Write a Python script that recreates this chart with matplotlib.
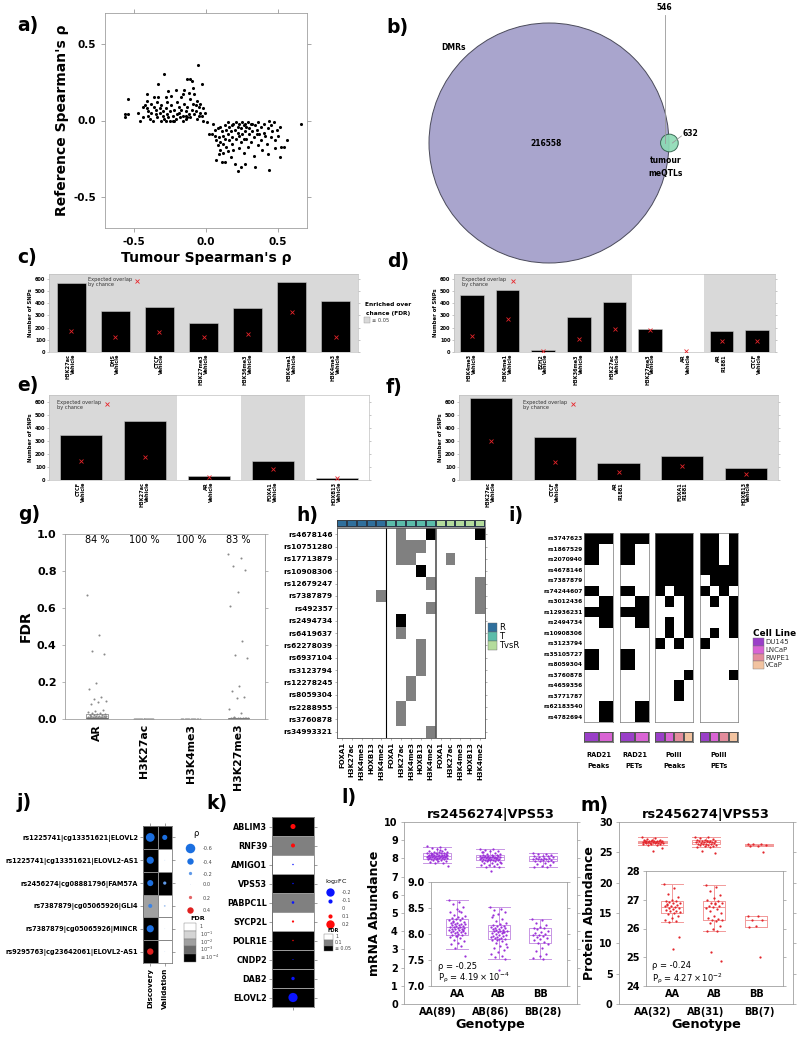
import numpy as np
import matplotlib
matplotlib.use("Agg")
import matplotlib.pyplot as plt
from matplotlib.colors import ListedColormap, LinearSegmentedColormap, Normalize
from matplotlib.patches import Circle, Rectangle

plt.rcParams["font.family"] = ["DejaVu Sans"]
plt.rcParams["mathtext.default"] = "regular"
plt.rcParams["axes.unicode_minus"] = False
plt.rcParams["axes.linewidth"] = 0.6

W, H = 801, 1040

# ---------------- data ----------------
# a) tumour vs reference spearman rho
a_points = [
    (-0.56, 0.04), (-0.54, 0.04), (-0.56, 0.02), (-0.54, 0.14), (-0.47, 0.05), (-0.46, 0.0), (-0.44, 0.02),
    (-0.41, 0.17), (-0.41, 0.13), (-0.42, 0.10), (-0.41, 0.08), (-0.40, 0.06), (-0.40, 0.03), (-0.39, 0.01),
    (-0.38, 0.11), (-0.38, 0.05), (-0.36, 0.15), (-0.36, 0.09), (-0.35, 0.07), (-0.35, 0.04), (-0.34, 0.02),
    (-0.34, 0.12), (-0.33, 0.24), (-0.33, 0.15), (-0.32, 0.08), (-0.32, 0.05), (-0.31, 0.10), (-0.30, 0.06),
    (-0.30, 0.03), (-0.29, 0.30), (-0.29, 0.01), (-0.28, 0.15), (-0.28, 0.08), (-0.27, 0.12), (-0.27, 0.04),
    (-0.26, 0.19), (-0.26, 0.02), (-0.25, 0.0), (-0.25, 0.06), (-0.24, 0.10), (-0.24, 0.16), (-0.23, 0.03),
    (-0.23, 0.0), (-0.22, 0.07), (-0.21, 0.20), (-0.21, 0.01), (-0.20, 0.12), (-0.20, 0.04), (-0.19, 0.09),
    (-0.18, 0.02), (-0.17, 0.07), (-0.17, 0.15), (-0.16, 0.17), (-0.16, 0.03), (-0.16, 0.0), (-0.15, 0.20),
    (-0.15, 0.11), (-0.14, 0.06), (-0.14, 0.01), (-0.13, 0.27), (-0.13, 0.09), (-0.12, 0.04), (-0.12, 0.18),
    (-0.11, 0.27), (-0.11, 0.14), (-0.11, 0.02), (-0.10, 0.26), (-0.10, 0.07), (-0.09, 0.21), (-0.09, 0.11),
    (-0.08, 0.04), (-0.08, 0.17), (-0.07, 0.06), (-0.06, 0.13), (-0.06, 0.01), (-0.055, 0.36), (-0.05, 0.09),
    (-0.04, 0.05), (-0.04, 0.11), (-0.03, 0.235), (-0.03, 0.03), (-0.02, 0.08), (-0.02, 0.0), (-0.01, 0.05),
    (-0.44, 0.09), (-0.37, 0.0), (-0.31, 0.0), (-0.28, 0.0), (-0.22, 0.0), (-0.19, 0.05), (-0.14, 0.03),
    (-0.07, 0.10), (-0.13, 0.02), (-0.05, 0.03),
    (0.02, -0.09), (0.04, -0.09), (0.01, -0.01), (0.06, -0.06), (0.06, -0.10), (0.07, -0.13), (0.07, -0.26),
    (0.08, -0.05), (0.08, -0.16), (0.09, -0.22), (0.09, -0.11), (0.10, -0.04), (0.10, -0.14), (0.10, -0.19),
    (0.11, -0.07), (0.11, -0.27), (0.12, -0.10), (0.12, -0.15), (0.12, -0.21), (0.13, -0.03), (0.13, -0.12),
    (0.13, -0.27), (0.14, -0.06), (0.14, -0.17), (0.15, -0.09), (0.15, -0.20), (0.16, -0.04), (0.16, -0.13),
    (0.17, -0.24), (0.17, -0.07), (0.18, -0.15), (0.18, -0.11), (0.19, -0.02), (0.19, -0.19), (0.20, -0.06),
    (0.20, -0.28), (0.21, -0.01), (0.21, -0.12), (0.22, -0.33), (0.22, -0.04), (0.22, -0.08), (0.23, -0.18),
    (0.23, -0.02), (0.24, -0.30), (0.24, -0.05), (0.24, -0.14), (0.25, -0.01), (0.25, -0.09), (0.26, -0.21),
    (0.26, -0.03), (0.27, -0.07), (0.27, -0.28), (0.28, -0.12), (0.28, -0.04), (0.29, -0.17), (0.29, -0.01),
    (0.30, -0.09), (0.30, -0.05), (0.31, -0.14), (0.31, -0.02), (0.32, -0.07), (0.33, -0.11), (0.33, -0.23),
    (0.34, -0.03), (0.34, -0.30), (0.35, -0.06), (0.36, -0.16), (0.36, -0.01), (0.37, -0.09), (0.38, -0.04),
    (0.38, -0.13), (0.39, -0.19), (0.40, -0.08), (0.40, -0.02), (0.41, -0.10), (0.42, -0.15), (0.43, -0.05),
    (0.43, -0.22), (0.44, -0.32), (0.44, 0.0), (0.45, -0.03), (0.45, -0.11), (0.46, -0.07), (0.47, -0.01),
    (0.48, -0.13), (0.48, -0.18), (0.49, -0.06), (0.50, -0.10), (0.51, -0.04), (0.51, -0.24), (0.52, -0.17),
    (0.54, -0.17), (0.56, -0.13), (0.66, -0.02), (0.05, -0.02), (0.15, -0.01), (0.23, -0.10), (0.32, -0.02),
    (0.26, -0.12), (0.18, -0.03), (0.35, -0.09), (0.27, -0.02),
]

# b) venn
venn_dmr_only = 216558
venn_both = 546
venn_meqtl_only = 632

# c-f) overlap with chip-seq marks
c_marks = ["H3K27ac", "DHS", "CTCF", "H3K27me3", "H3K36me3", "H3K4me1", "H3K4me3"]
c_conds = ["Vehicle", "Vehicle", "Vehicle", "Vehicle", "Vehicle", "Vehicle", "Vehicle"]
c_obs = [563, 334, 367, 236, 359, 576, 416]
c_exp = [174, 120, 163, 122, 149, 332, 122]
c_enriched = [1, 1, 1, 1, 1, 1, 1]

d_marks = ["H3K4me3", "H3K4me1", "EZH2", "H3K36me3", "H3K27ac", "H3K27me3", "AR", "AR", "CTCF"]
d_conds = ["Vehicle", "Vehicle", "Vehicle", "Vehicle", "Vehicle", "Vehicle", "Vehicle", "R1881", "Vehicle"]
d_obs = [470, 508, 14, 285, 408, 188, 3, 171, 177]
d_exp = [133, 272, 11, 106, 187, 182, 5, 92, 90]
d_enriched = [1, 1, 1, 1, 1, 0, 0, 1, 1]

e_marks = ["CTCF", "H3K27ac", "AR", "FOXA1", "HOXB13"]
e_conds = ["Vehicle", "Vehicle", "Vehicle", "Vehicle", "Vehicle"]
e_obs = [343, 454, 31, 149, 18]
e_exp = [143, 174, 24, 87, 16]
e_enriched = [1, 1, 0, 1, 0]

f_marks = ["H3K27ac", "CTCF", "AR", "FOXA1", "HOXB13"]
f_conds = ["Vehicle", "Vehicle", "R1881", "R1881", "Vehicle"]
f_obs = [626, 331, 131, 182, 92]
f_exp = [297, 138, 59, 110, 49]
f_enriched = [1, 1, 1, 1, 1]

# g) FDR per mark
g_groups = ["AR", "H3K27ac", "H3K4me3", "H3K27me3"]
g_pct = [84, 100, 100, 83]
g_ar = [0.67, 0.455, 0.37, 0.35, 0.195, 0.163, 0.12, 0.11, 0.10, 0.09, 0.08,
        0.047, 0.045, 0.04, 0.035, 0.03, 0.028, 0.025, 0.022, 0.02, 0.019, 0.018, 0.017, 0.016,
        0.015, 0.014, 0.013, 0.012, 0.012, 0.011, 0.01, 0.01, 0.009, 0.009, 0.008, 0.008, 0.007,
        0.007, 0.006, 0.006, 0.005, 0.005, 0.005, 0.004, 0.004, 0.004, 0.003, 0.003, 0.003, 0.002,
        0.002, 0.002, 0.002, 0.001, 0.001, 0.001, 0.001, 0.001, 0.0, 0.0, 0.0, 0.0, 0.0, 0.0, 0.0,
        0.0, 0.0, 0.0, 0.0]
g_h3k27ac = [0.0, 0.0, 0.001, 0.0, 0.0, 0.0, 0.0, 0.001, 0.0, 0.0, 0.0, 0.0, 0.0, 0.0, 0.0, 0.0,
             0.0, 0.0, 0.0, 0.0]
g_h3k4me3 = [0.0, 0.0, 0.0, 0.001, 0.0, 0.0, 0.0, 0.0, 0.0, 0.0, 0.0, 0.0, 0.0, 0.0, 0.0, 0.0]
g_h3k27me3 = [0.89, 0.87, 0.825, 0.805, 0.686, 0.61, 0.423, 0.345, 0.332, 0.177, 0.15, 0.117, 0.115,
              0.055, 0.03, 0.012, 0.008, 0.006, 0.005, 0.005, 0.004, 0.004, 0.003, 0.003, 0.003,
              0.002, 0.002, 0.002, 0.002, 0.002, 0.001, 0.001, 0.001, 0.001, 0.001, 0.001, 0.001,
              0.001, 0.0, 0.0, 0.0, 0.0, 0.0, 0.0, 0.0, 0.0, 0.0, 0.0, 0.0, 0.0, 0.0, 0.0, 0.0,
              0.0, 0.0, 0.0, 0.0, 0.0, 0.0, 0.0, 0.0, 0.0, 0.0, 0.0, 0.0, 0.0, 0.0, 0.0, 0.0,
              0.0, 0.0, 0.0, 0.0, 0.0, 0.0, 0.0, 0.0, 0.0, 0.0, 0.0, 0.0, 0.0]

# h) 0 = none, 1 = overlap, 2 = strong
h_snps = ["rs4678146", "rs10751280", "rs17713879", "rs10908306", "rs12679247", "rs7387879",
          "rs492357", "rs2494734", "rs6419637", "rs62278039", "rs6937104", "rs3123794",
          "rs12278245", "rs8059304", "rs2288955", "rs3760878", "rs34993321"]
h_marks = ["FOXA1", "H3K27ac", "H3K4me3", "HOXB13", "H3K4me2"]
h_groups = ["R", "T", "TvsR"]
h_group_colors = ["#2f6f9c", "#5bbcaa", "#b4dc9c"]
h_cells = [
    [0, 0, 0, 0, 0, 0, 1, 0, 0, 2, 0, 0, 0, 0, 2],
    [0, 0, 0, 0, 0, 0, 1, 1, 1, 0, 0, 0, 0, 0, 0],
    [0, 0, 0, 0, 0, 0, 1, 1, 0, 0, 0, 1, 0, 0, 0],
    [0, 0, 0, 0, 0, 0, 0, 0, 2, 0, 0, 0, 0, 0, 0],
    [0, 0, 0, 0, 0, 0, 0, 0, 0, 1, 0, 0, 0, 0, 1],
    [0, 0, 0, 0, 1, 0, 0, 0, 0, 0, 0, 0, 0, 0, 1],
    [0, 0, 0, 0, 0, 0, 0, 0, 0, 1, 0, 0, 0, 0, 1],
    [0, 0, 0, 0, 0, 0, 2, 0, 0, 0, 0, 0, 0, 0, 0],
    [0, 0, 0, 0, 0, 0, 1, 0, 0, 0, 0, 0, 0, 0, 0],
    [0, 0, 0, 0, 0, 0, 0, 0, 1, 0, 0, 0, 0, 0, 0],
    [0, 0, 0, 0, 0, 0, 0, 0, 1, 0, 0, 0, 0, 0, 0],
    [0, 0, 0, 0, 0, 0, 0, 0, 1, 0, 0, 0, 0, 0, 0],
    [0, 0, 0, 0, 0, 0, 0, 1, 0, 0, 0, 0, 0, 0, 0],
    [0, 0, 0, 0, 0, 0, 0, 1, 0, 0, 0, 0, 0, 0, 0],
    [0, 0, 0, 0, 0, 0, 1, 0, 0, 0, 0, 0, 0, 0, 0],
    [0, 0, 0, 0, 0, 0, 1, 0, 0, 0, 0, 0, 0, 0, 0],
    [0, 0, 0, 0, 0, 0, 0, 0, 0, 1, 0, 0, 0, 0, 0],
]

# i) RAD21 / PolII overlap by cell line
i_snps = ["rs3747623", "rs1867529", "rs2070940", "rs4678146", "rs7387879", "rs74244607",
          "rs3012436", "rs12936231", "rs2494734", "rs10908306", "rs3123794", "rs35105727",
          "rs8059304", "rs3760878", "rs4659356", "rs3771787", "rs62183540", "rs4782694"]
cell_lines = ["DU145", "LNCaP", "RWPE1", "VCaP"]
cell_colors = ["#9a3fc8", "#d964d4", "#e38c9c", "#f2c3a0"]
rad21_peaks = [[1, 1], [1, 0], [1, 0], [0, 0], [0, 0], [1, 0], [0, 1], [1, 1], [0, 1],
               [0, 0], [0, 0], [1, 0], [1, 0], [0, 0], [0, 0], [0, 0], [0, 1], [0, 1]]
rad21_pets = [[1, 1], [1, 0], [1, 0], [0, 0], [0, 0], [1, 0], [0, 1], [1, 1], [0, 1],
              [0, 0], [0, 0], [1, 0], [1, 0], [0, 0], [0, 0], [0, 0], [0, 1], [0, 1]]
polii_peaks = [[1, 1, 1, 1], [1, 1, 1, 1], [1, 1, 1, 1], [1, 1, 1, 1], [1, 1, 1, 1], [1, 0, 1, 1],
               [0, 1, 0, 1], [0, 0, 0, 1], [0, 1, 0, 1], [0, 1, 0, 1], [1, 0, 1, 0], [0, 0, 0, 0],
               [0, 0, 0, 0], [0, 0, 0, 1], [0, 0, 1, 0], [0, 0, 1, 0], [0, 0, 0, 0], [0, 0, 0, 0]]
polii_pets = [[1, 1, 0, 1], [1, 1, 0, 1], [1, 1, 0, 1], [1, 1, 1, 1], [0, 1, 1, 1], [1, 0, 1, 0],
              [0, 1, 0, 1], [0, 0, 0, 1], [0, 0, 0, 1], [0, 1, 0, 1], [1, 0, 0, 0], [0, 0, 0, 0],
              [0, 0, 0, 0], [0, 0, 0, 1], [0, 0, 0, 0], [0, 0, 0, 0], [0, 0, 0, 0], [0, 0, 0, 0]]

# j) meQTL replication
j_labels = ["rs1225741|cg13351621|ELOVL2", "rs1225741|cg13351621|ELOVL2-AS1",
            "rs2456274|cg08881796|FAM57A", "rs7387879|cg05065926|GLI4",
            "rs7387879|cg05065926|MINCR", "rs9295763|cg23642061|ELOVL2-AS1"]
j_cols = ["Discovery", "Validation"]
j_rho_disc = [-0.55, -0.45, -0.38, -0.25, -0.45, 0.40]
j_rho_val = [-0.32, -0.03, -0.2, -0.1, -0.02, -0.02]
j_fdr_disc = [4, 4, 4, 2, 4, 4]  # -log10 FDR level
j_fdr_val = [4, 0, 4, 0, 0, 0]
j_rho_legend = [-0.6, -0.4, -0.2, 0.0, 0.2, 0.4]
j_fdr_legend = ["1", "$10^{-1}$", "$10^{-2}$", "$10^{-3}$", "≤ $10^{-4}$"]

# k) expression change
k_genes = ["ABLIM3", "RNF39", "AMIGO1", "VPS53", "PABPC1L", "SYCP2L", "POLR1E", "CNDP2", "DAB2", "ELOVL2"]
k_fc = [0.12, 0.095, -0.03, -0.03, -0.06, 0.05, 0.03, -0.02, -0.08, -0.22]
k_fdr = [2, 1, 0, 2, 1, 0, 2, 2, 2, 2]  # 0: 1, 1: 0.1, 2: <=0.05
k_fc_legend = [-0.2, -0.1, 0, 0.1, 0.2]
k_fdr_legend = ["1", "0.1", "≤ 0.05"]

# l, m) genotype boxplots
genotypes = ["AA", "AB", "BB"]
l_counts = [89, 86, 28]
m_counts = [32, 31, 7]
l_aa = [8.66, 8.61, 8.57, 8.52, 8.49, 8.43, 8.42, 8.37, 8.35, 8.33, 8.31, 8.3, 8.28, 8.27, 8.27,
        8.25, 8.24, 8.22, 8.21, 8.2, 8.19, 8.19, 8.18, 8.17, 8.16, 8.15, 8.14, 8.14, 8.13, 8.12,
        8.11, 8.1, 8.1, 8.09, 8.08, 8.08, 8.06, 8.05, 8.04, 8.04, 8.03, 8.02, 8.01, 8.0, 7.99,
        7.98, 7.96, 7.94, 7.92, 7.89, 7.86, 7.83, 7.8, 7.77, 7.73, 7.57, 8.45, 8.23, 8.07, 7.97]
l_ab = [8.52, 8.49, 8.46, 8.42, 8.38, 8.33, 8.29, 8.25, 8.22, 8.2, 8.18, 8.16, 8.15, 8.14, 8.13,
        8.12, 8.11, 8.1, 8.09, 8.08, 8.07, 8.06, 8.05, 8.05, 8.04, 8.03, 8.02, 8.01, 8.0, 7.99,
        7.98, 7.97, 7.96, 7.95, 7.94, 7.93, 7.92, 7.91, 7.9, 7.88, 7.86, 7.83, 7.8, 7.77, 7.73,
        7.7, 7.66, 7.62, 7.58, 7.55, 7.52, 7.3, 8.36, 8.03, 7.89, 7.75]
l_bb = [8.28, 8.26, 8.22, 8.18, 8.14, 8.12, 8.11, 8.09, 8.06, 8.04, 8.02, 8.0, 7.99, 7.98, 7.96,
        7.94, 7.92, 7.9, 7.88, 7.85, 7.83, 7.8, 7.74, 7.68, 7.62, 7.58, 7.53, 7.52]
l_q1 = [7.99, 7.90, 7.83]
l_med = [8.14, 8.05, 7.98]
l_q3 = [8.28, 8.17, 8.12]
l_lo = [7.72, 7.52, 7.52]
l_hi = [8.65, 8.51, 8.28]

m_aa = [27.55, 27.4, 27.2, 27.1, 27.0, 26.97, 26.95, 26.92, 26.9, 26.88, 26.85, 26.82, 26.8, 26.78,
        26.75, 26.73, 26.7, 26.68, 26.65, 26.62, 26.6, 26.57, 26.55, 26.5, 26.42, 26.35, 26.3,
        26.25, 26.22, 25.7, 25.3, 26.83]
m_ab = [27.52, 27.45, 27.3, 27.15, 27.05, 26.98, 26.95, 26.9, 26.87, 26.85, 26.8, 26.78, 26.75,
        26.72, 26.68, 26.62, 26.55, 26.45, 26.38, 26.33, 26.3, 26.28, 26.25, 26.2, 26.1, 26.0,
        25.92, 25.9, 25.2, 24.88, 26.9]
m_bb = [26.43, 26.42, 26.3, 26.28, 26.08, 26.05, 25.0]
m_q1 = [26.55, 26.31, 26.04]
m_med = [26.75, 26.75, 26.28]
m_q3 = [26.95, 26.97, 26.43]
m_lo = [26.22, 25.90, 26.04]
m_hi = [27.54, 27.51, 26.43]

# ---------------- helpers ----------------
fig = plt.figure(figsize=(W / 100, H / 100), dpi=100)

over = fig.add_axes([0, 0, 1, 1])
over.set_xlim(0, W)
over.set_ylim(H, 0)
over.axis("off")
over.set_zorder(10)


def box(x0, y0, x1, y1):
    return fig.add_axes([x0 / W, 1 - y1 / H, (x1 - x0) / W, (y1 - y0) / H])


def put(x, y, s, **kw):
    kw.setdefault("ha", "left")
    kw.setdefault("va", "center")
    over.text(x, y, s, **kw)


def frame(ax, color="#a0a0a0", lw=0.6):
    for s in ax.spines.values():
        s.set_color(color)
        s.set_linewidth(lw)


def bold_ticks(ax):
    for t in ax.get_xticklabels() + ax.get_yticklabels():
        t.set_fontweight("bold")


def spread(n, half):
    return ((np.arange(n) * 0.618034) % 1.0 - 0.5) * 2 * half


def cells(ax, mat, cmap, vmin, vmax, **kw):
    mat = np.asarray(mat)
    ax.pcolormesh(np.arange(mat.shape[1] + 1) - 0.5, np.arange(mat.shape[0] + 1) - 0.5, mat,
                  cmap=cmap, vmin=vmin, vmax=vmax, **kw)
    ax.set_xlim(-0.5, mat.shape[1] - 0.5)
    ax.set_ylim(mat.shape[0] - 0.5, -0.5)


for lab, x, y in [("a)", 17, 26), ("b)", 386, 27), ("c)", 17, 257), ("d)", 387, 261),
                  ("e)", 17, 385), ("f)", 386, 387), ("g)", 18, 515), ("h)", 296, 515),
                  ("i)", 508, 515), ("j)", 17, 803), ("k)", 206, 803), ("l)", 341, 798),
                  ("m)", 580, 806)]:
    put(x, y, lab, fontsize=13.5, fontweight="bold")

# ---------------- a ----------------
a_x, a_y = zip(*a_points)
ax = box(105, 13, 307, 228)
ax.scatter(a_x, a_y, s=5, color="black", lw=0)
ax.set(xlim=(-0.7, 0.7), ylim=(-0.7, 0.7), xticks=[-0.5, 0, 0.5], yticks=[-0.5, 0, 0.5])
ax.set_xticklabels(["-0.5", "0.0", "0.5"], fontsize=7.5)
ax.set_yticklabels(["-0.5", "0.0", "0.5"], fontsize=7.5)
bold_ticks(ax)
ax.tick_params(top=True, right=True, length=3, width=0.6, color="#999999")
ax.set_xlabel("Tumour Spearman's ρ", fontsize=10, fontweight="bold", labelpad=3)
ax.set_ylabel("Reference Spearman's ρ", fontsize=10, fontweight="bold", labelpad=3)
frame(ax)

# ---------------- b (venn) ----------------
n_big = venn_dmr_only + venn_both
n_small = venn_meqtl_only + venn_both
scale = 120 / np.sqrt(n_big)
r1, r2 = scale * np.sqrt(n_big), scale * np.sqrt(n_small)
target = venn_both * scale ** 2


def lens(d):
    a1 = r1 ** 2 * np.arccos((d ** 2 + r1 ** 2 - r2 ** 2) / (2 * d * r1))
    a2 = r2 ** 2 * np.arccos((d ** 2 + r2 ** 2 - r1 ** 2) / (2 * d * r2))
    a3 = 0.5 * np.sqrt((-d + r1 + r2) * (d + r1 - r2) * (d - r1 + r2) * (d + r1 + r2))
    return (a1 + a2 - a3) / np.pi


lo, hi = r1 - r2 + 1e-6, r1 + r2 - 1e-6
for _ in range(60):
    mid = (lo + hi) / 2
    if lens(mid) > target:
        lo = mid
    else:
        hi = mid
cx, cy = 549, 143
sx = cx + lo
over.add_patch(Circle((cx, cy), r1, facecolor="#a9a5cd", edgecolor="#4a4a5a", lw=0.7))
over.add_patch(Circle((sx, cy), r2, facecolor="#8cdbb4", edgecolor="#2f5f4a", lw=0.7, alpha=0.9))
lens_x = (sx - r2 + cx + r1) / 2
over.plot([lens_x, lens_x], [15, cy], color="#999999", lw=0.6)
over.plot([sx + 3, sx + 12], [cy, cy - 7], color="#999999", lw=0.6)
put(lens_x, 8, f"{venn_both}", ha="center", fontsize=5.5, fontweight="bold")
put(sx + 13, cy - 10, f"{venn_meqtl_only}", fontsize=5.5, fontweight="bold")
put(cx - 3, cy, f"{venn_dmr_only}", ha="center", fontsize=5.5, fontweight="bold")
put(441, 48, "DMRs", fontsize=5.5, fontweight="bold")
put(sx - 4, 167, "tumour\nmeQTLs", ha="center", fontsize=5.5, fontweight="bold", linespacing=1.5)


# ---------------- c-f bars ----------------
def bar_panel(ax, marks, conds, obs, exp, enriched, top):
    pos = np.arange(len(obs))
    for i in pos:
        if enriched[i]:
            ax.axvspan(i - 0.5, i + 0.5, color="#d9d9d9", lw=0, zorder=0)
    ax.bar(pos, obs, width=0.66, color="black", edgecolor="#c8c8c8", linewidth=0.4, zorder=2)
    ax.plot(pos, exp, ls="none", marker="x", color="#e8242a", ms=2.6, mew=0.6, zorder=3)
    ax.set_xlim(-0.5, len(obs) - 0.5)
    ax.set_ylim(0, top)
    ax.set_yticks(range(0, 700, 100))
    ax.set_xticks(pos)
    ax.set_xticklabels([m + "\n" + c for m, c in zip(marks, conds)], rotation=90,
                       fontsize=3.6, linespacing=1.05, ma="right")
    ax.tick_params(axis="y", labelsize=3.6, length=1.5, width=0.4, pad=1, right=True, color="#999999")
    ax.tick_params(axis="x", length=0, pad=1.5)
    bold_ticks(ax)
    ax.set_ylabel("Number of SNPs", fontsize=3.8, fontweight="bold", labelpad=1.5)
    frame(ax, "#c0c0c0", 0.5)


def expected_key(x, y, mx):
    put(x, y, "Expected overlap\nby chance", fontsize=3.6, linespacing=1.2, color="#333333")
    over.plot([mx], [y - 1], ls="none", marker="x", color="#e8242a", ms=2.4, mew=0.6)


bar_panel(box(49, 274, 358, 352), c_marks, c_conds, c_obs, c_exp, c_enriched, 640)
bar_panel(box(454, 274, 775, 352), d_marks, d_conds, d_obs, d_exp, d_enriched, 640)
bar_panel(box(49, 395, 369, 480), e_marks, e_conds, e_obs, e_exp, e_enriched, 650)
bar_panel(box(459, 395, 778, 480), f_marks, f_conds, f_obs, f_exp, f_enriched, 650)
expected_key(88, 282, 137)
expected_key(462, 282, 513)
expected_key(57, 405, 107)
expected_key(523, 405, 573)

put(365, 305, "Enriched over", fontsize=4.2, fontweight="bold")
put(366, 313, "chance (FDR)", fontsize=4.2, fontweight="bold")
over.add_patch(Rectangle((364, 317), 6, 6, facecolor="#d9d9d9", edgecolor="#999999", lw=0.3))
put(372, 320, "≤ 0.05", fontsize=3.6, color="#333333")

# ---------------- g ----------------
ax = box(65, 534, 265, 719)
g_vals = [g_ar, g_h3k27ac, g_h3k4me3, g_h3k27me3]
for i, vals in enumerate(g_vals):
    ax.scatter(i + spread(len(vals), 0.21), vals, s=2.2, color="#8a8a8a", lw=0, zorder=2)
ax.boxplot(g_vals, positions=range(4), widths=0.45, whis=0, showfliers=False, showcaps=False,
           manage_ticks=False, boxprops=dict(color="#777777", lw=0.5),
           medianprops=dict(color="#666666", lw=0.6), whiskerprops=dict(lw=0))
for i, p in enumerate(g_pct):
    ax.text(i, 0.965, f"{p} %", ha="center", va="center", fontsize=7)
ax.set_xlim(-0.68, 3.57)
ax.set_ylim(0, 1.0)
ax.set_yticks(np.arange(0, 1.01, 0.2))
ax.set_yticklabels([f"{v:.1f}" for v in np.arange(0, 1.01, 0.2)], fontsize=8)
ax.set_xticks(range(4))
ax.set_xticklabels(g_groups, rotation=90, fontsize=7.8)
bold_ticks(ax)
ax.tick_params(right=True, length=2.5, width=0.5, color="#999999")
ax.tick_params(axis="x", length=0)
ax.set_ylabel("FDR", fontsize=10, fontweight="bold", labelpad=3)
frame(ax)

# ---------------- h ----------------
ax = box(337, 528, 485, 738)
cells(ax, h_cells, ListedColormap(["white", "#808080", "black"]), 0, 2)
ax.axvline(4.5, color="black", lw=0.8)
ax.axvline(9.5, color="#555555", lw=1.2)
ax.set_yticks(range(len(h_snps)))
ax.set_yticklabels(h_snps, fontsize=5.3)
ax.set_xticks(range(15))
ax.set_xticklabels(h_marks * len(h_groups), rotation=90, fontsize=5)
bold_ticks(ax)
ax.tick_params(length=1.5, width=0.4, right=True, color="#777777", pad=1.5)
frame(ax, "#555555", 0.6)

ax = box(337, 520, 485, 527)
cells(ax, [np.repeat(np.arange(len(h_groups)), len(h_marks))], ListedColormap(h_group_colors),
      0, 2, edgecolors="#2a3a4a", linewidth=0.3)
ax.set_xticks([])
ax.set_yticks([])
frame(ax, "#444444", 0.4)

for k, (g, c) in enumerate(zip(h_groups, h_group_colors)):
    over.add_patch(Rectangle((488, 623 + 9 * k), 9, 9, facecolor=c, edgecolor="#666666", lw=0.3))
    put(499, 627.5 + 9 * k, g, fontsize=6)

# ---------------- i ----------------
i_panels = [("RAD21", "Peaks", rad21_peaks, (584, 613)), ("RAD21", "PETs", rad21_pets, (620, 649)),
            ("PolII", "Peaks", polii_peaks, (655, 693)), ("PolII", "PETs", polii_pets, (700, 738))]
for n, (fac, kind, mat, (x0, x1)) in enumerate(i_panels):
    ax = box(x0, 533, x1, 722)
    cells(ax, mat, ListedColormap(["white", "black"]), 0, 1)
    ax.set_xticks([])
    if n == 0:
        ax.set_yticks(range(len(i_snps)))
        ax.set_yticklabels(i_snps, fontsize=4.2)
        bold_ticks(ax)
        ax.tick_params(length=0, pad=1)
    else:
        ax.set_yticks([])
    frame(ax, "#777777", 0.5)
    ax = box(x0, 732, x1, 742)
    ncol = np.asarray(mat).shape[1]
    cells(ax, [np.arange(ncol)], ListedColormap(cell_colors), -0.5, 3.5,
          edgecolors="#555555", linewidth=0.3)
    ax.set_xlim(-0.5, ncol - 0.5)
    ax.set_xticks([])
    ax.set_yticks([])
    frame(ax, "#555555", 0.5)
    put((x0 + x1) / 2, 755, fac, ha="center", fontsize=4.8, fontweight="bold")
    put((x0 + x1) / 2, 766, kind, ha="center", fontsize=4.8, fontweight="bold")

put(753, 633, "Cell Line", fontsize=6.4, fontweight="bold")
for k, (cl, c) in enumerate(zip(cell_lines, cell_colors)):
    over.add_patch(Rectangle((753, 638 + 7.8 * k), 11, 7.8, facecolor=c, edgecolor="#777777", lw=0.3))
    put(765, 642 + 7.8 * k, cl, fontsize=5, color="#333333")

# ---------------- j ----------------
rho_cmap = LinearSegmentedColormap.from_list("rho", ["#1b6fe0", "#e8eef8", "#e0201f"])
rho_norm = Normalize(-0.3, 0.3)
fdr_cmap = ListedColormap(["white", "#d4d4d4", "#a0a0a0", "#6a6a6a", "black"])
ax = box(143, 826, 172, 963)
cells(ax, np.column_stack([j_fdr_disc, j_fdr_val]), fdr_cmap, -0.5, 4.5,
      edgecolors="#888888", linewidth=0.4)
for col, rho in enumerate([j_rho_disc, j_rho_val]):
    rho = np.asarray(rho)
    ax.scatter(np.full(len(rho), col), np.arange(len(rho)), s=130 * rho ** 2 + 0.3,
               c=rho, cmap=rho_cmap, norm=rho_norm, lw=0, zorder=3)
ax.set_yticks(range(len(j_labels)))
ax.set_yticklabels(j_labels, fontsize=4.7)
ax.set_xticks(range(2))
ax.set_xticklabels(j_cols, rotation=90, fontsize=5.2)
bold_ticks(ax)
ax.tick_params(length=2, width=0.4, top=True, right=True, color="#555555", pad=1.5)
frame(ax, "#666666", 0.5)

put(196, 834, "ρ", fontsize=6, ha="center")
for k, v in enumerate(j_rho_legend):
    y = [848, 861, 873, 884, 897, 910][k]
    over.scatter([190], [y], s=130 * v ** 2 + 0.3, color=rho_cmap(rho_norm(v)), lw=0)
    put(203, y + 1, f"{v:.1f}", fontsize=3.6, color="#444444")
put(190, 919, "FDR", fontsize=4.6, fontweight="bold")
for k, lab in enumerate(j_fdr_legend):
    over.add_patch(Rectangle((184, 923 + 7.8 * k), 12, 7.8, facecolor=fdr_cmap(k),
                             edgecolor="#777777", lw=0.3))
    put(200, 927 + 7.6 * k, lab, fontsize=3.6, color="#444444")

# ---------------- k ----------------
k_cmap = ListedColormap(["white", "#808080", "black"])
ax = box(272, 817, 314, 1007)
cells(ax, np.reshape(k_fdr, (-1, 1)), k_cmap, 0, 2, edgecolors="#999999", linewidth=0.4)
fc = np.asarray(k_fc)
ax.scatter(np.zeros(len(fc)), np.arange(len(fc)), s=900 * fc ** 2 + 0.3,
           c=np.where(fc > 0, "#ff0a0a", "#0a14ff"), lw=0, zorder=3)
ax.set_yticks(range(len(k_genes)))
ax.set_yticklabels(k_genes, fontsize=5.8)
ax.set_xticks([0])
ax.set_xticklabels([""])
bold_ticks(ax)
ax.tick_params(length=2, width=0.4, right=True, color="#555555", pad=1.5)
frame(ax, "#666666", 0.5)

put(325, 881, "log$_2$FC", fontsize=4.6)
for k, v in enumerate(k_fc_legend):
    y = [892, 901, 908, 916, 924][k]
    if v != 0:
        over.scatter([330], [y], s=900 * v ** 2, color="#ff0a0a" if v > 0 else "#0a14ff", lw=0)
    put(342, y, f"{v:g}", fontsize=3.5, color="#444444")
put(327, 930, "FDR", fontsize=3.6, fontweight="bold")
for k, lab in enumerate(k_fdr_legend):
    over.add_patch(Rectangle((324, 934 + 5.8 * k), 9, 5.8, facecolor=k_cmap(k),
                             edgecolor="#777777", lw=0.3))
    put(335, 937 + 5.8 * k, lab, fontsize=3.4, color="#444444")


# ---------------- l, m ----------------
def genotype_panel(main, inset, counts, pts, q1, med, q3, lo, hi, col, edge,
                   ylim, yticks, inlim, inticks, inlabels, ylabel, rho, pval, txt_x, txt_y):
    stats = [dict(q1=a, med=b, q3=c, whislo=d, whishi=e, fliers=[])
             for a, b, c, d, e in zip(q1, med, q3, lo, hi)]
    line = dict(color=edge, lw=0.7)
    for a in (main, inset):
        a.bxp(stats, positions=[1, 2, 3], widths=0.53, capwidths=0.53, showfliers=False,
              boxprops=line, medianprops=line, whiskerprops=line, capprops=line, manage_ticks=False)
        for i, p in enumerate(pts):
            a.scatter(i + 1 + spread(len(p), 0.2), p, s=2.6, color=col, lw=0, zorder=3)
        a.set_xlim(0.37, 3.64)
        a.tick_params(right=True, length=2.5, width=0.5, color="#999999", pad=2)
        frame(a)
    main.set_ylim(*ylim)
    main.set_yticks(yticks)
    main.set_yticklabels([str(v) for v in yticks], fontsize=7)
    main.set_xticks([1, 2, 3])
    main.set_xticklabels([f"{g}({n})" for g, n in zip(genotypes, counts)], fontsize=7)
    main.tick_params(axis="x", length=0)
    bold_ticks(main)
    main.set_xlabel("Genotype", fontsize=9.3, fontweight="bold", labelpad=1)
    main.set_ylabel(ylabel, fontsize=9, fontweight="bold", labelpad=2)
    main.set_title("rs2456274|VPS53", fontsize=9.3, fontweight="bold", pad=3)
    inset.set_ylim(*inlim)
    inset.set_yticks(inticks)
    inset.set_yticklabels(inlabels, fontsize=7)
    inset.set_xticks([1, 2, 3])
    inset.set_xticklabels(genotypes, fontsize=7)
    inset.tick_params(axis="x", length=0)
    bold_ticks(inset)
    inset.text(txt_x, txt_y, f"ρ = {rho}", transform=inset.transAxes, fontsize=6, va="center")
    inset.text(txt_x, txt_y - 0.115, "$P_{ρ}$ = " + pval, transform=inset.transAxes,
               fontsize=6, va="center")


genotype_panel(box(404, 822, 577, 1004), box(431, 882, 567, 986), l_counts, [l_aa, l_ab, l_bb],
               l_q1, l_med, l_q3, l_lo, l_hi, "#9b30d9", "#c896e4",
               (0, 10), list(range(0, 11)), (7.0, 9.0), [7.0, 7.5, 8.0, 8.5, 9.0],
               ["7.0", "7.5", "8.0", "8.5", "9.0"], "mRNA Abundance", "-0.25",
               r"$4.19\times10^{-4}$", 0.05, 0.19)
genotype_panel(box(619, 822, 793, 1004), box(646, 871, 783, 986), m_counts, [m_aa, m_ab, m_bb],
               m_q1, m_med, m_q3, m_lo, m_hi, "#e3262c", "#f29a9a",
               (0, 30), list(range(0, 31, 5)), (24, 28), [24, 25, 26, 27, 28],
               ["24", "25", "26", "27", "28"], "Protein Abundance", "-0.24",
               r"$4.27\times10^{-2}$", 0.045, 0.175)

fig.savefig("out.png", dpi=100)
